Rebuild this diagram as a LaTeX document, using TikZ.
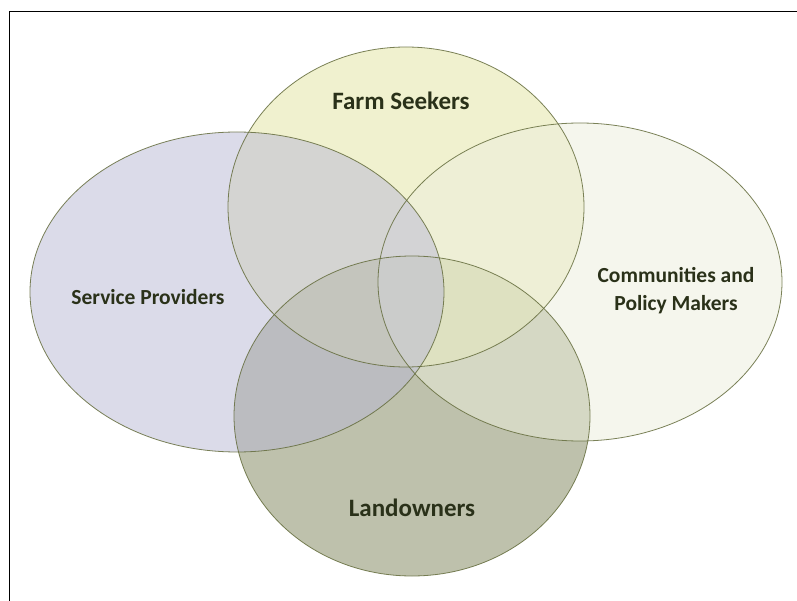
\documentclass[tikz,border=0pt]{standalone}
\usepackage{fontspec}
\setmainfont{Carlito}
\definecolor{spc}{RGB}{185,185,213}
\definecolor{fsc}{RGB}{227,229,161}
\definecolor{cmc}{RGB}{237,239,221}
\definecolor{loc}{RGB}{127,133,91}
\definecolor{edge}{RGB}{100,108,60}
\definecolor{txt}{RGB}{42,49,25}
\begin{document}
\begin{tikzpicture}[x=1pt,y=-1pt,
  setfill/.style={fill opacity=0.5},
  setedge/.style={draw=edge,line width=0.8pt,draw opacity=0.85},
  lbl/.style={text=txt,font=\bfseries,align=center}]
\useasboundingbox (0,0) rectangle (797,601);
\fill[white] (0,0) rectangle (797,601);
% fills
\fill[loc,setfill] (412,416) ellipse [x radius=178,y radius=160];
\fill[fsc,setfill] (406,207) ellipse [x radius=178,y radius=160];
\fill[cmc,setfill] (580,282) ellipse [x radius=202,y radius=159];
\fill[spc,setfill] (237,292) ellipse [x radius=207,y radius=160];
% outlines
\draw[setedge] (237,292) ellipse [x radius=207,y radius=160];
\draw[setedge] (406,207) ellipse [x radius=178,y radius=160];
\draw[setedge] (580,282) ellipse [x radius=202,y radius=159];
\draw[setedge] (412,416) ellipse [x radius=178,y radius=160];
% frame
\draw[black,line width=1.2pt] (9.5,601) -- (9.5,11.5) -- (797,11.5);
% labels
\node[lbl,font=\bfseries\fontsize{25}{28}\selectfont] (fs) at (401,101) {Farm Seekers};
\node[lbl,font=\bfseries\fontsize{21.5}{28}\selectfont] (sp) at (148,297) {Service Providers};
\node[lbl,font=\bfseries\fontsize{21.5}{28}\selectfont] (cm) at (676,291) {Communities and\\Policy Makers};
\node[lbl,font=\bfseries\fontsize{25}{28}\selectfont] (lo) at (412,508) {Landowners};
\end{tikzpicture}
\end{document}
